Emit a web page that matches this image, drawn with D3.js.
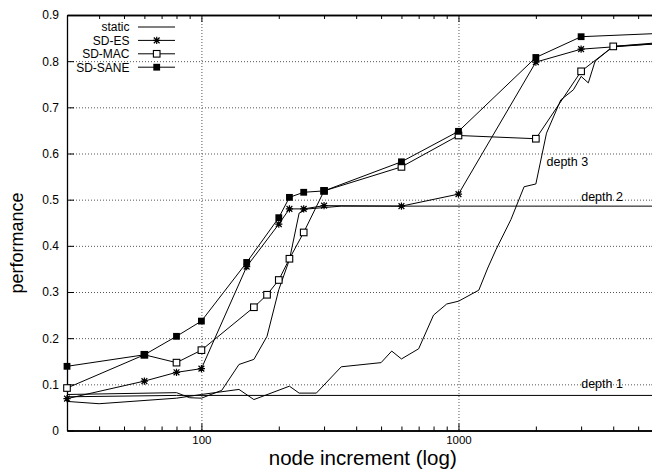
<!DOCTYPE html>
<html>
<head>
<meta charset="utf-8">
<script src="https://cdn.jsdelivr.net/npm/d3@7/dist/d3.min.js"></script>
<style>
  html, body { margin: 0; padding: 0; background: #fff; }
  svg { display: block; font-family: "Liberation Sans", Arial, Helvetica, sans-serif; }
</style>
</head>
<body>
<svg id="chart" width="652" height="469"></svg>
<script>
// ---- data ----
const xTicksMajor = [100, 1000];
const xTicksMinor = [40, 50, 60, 70, 80, 90, 200, 300, 400, 500, 600, 700, 800, 900, 2000, 3000, 4000, 5000];
const yTicks = [0, 0.1, 0.2, 0.3, 0.4, 0.5, 0.6, 0.7, 0.8, 0.9];
const yTickLabels = ["0", "0.1", "0.2", "0.3", "0.4", "0.5", "0.6", "0.7", "0.8", "0.9"];

// static baselines, one curve per depth
const depth1X = [30, 80, 6000];
const depth1Y = [0.073, 0.076, 0.076];
const depth2X = [30, 80, 90, 100, 120, 140, 160, 180, 200, 220, 240, 260, 350, 6000];
const depth2Y = [0.078, 0.082, 0.071, 0.070, 0.087, 0.143, 0.154, 0.204, 0.305, 0.370, 0.471, 0.480, 0.486, 0.486];
const depth3X = [30, 40, 80, 100, 140, 160, 220, 240, 280, 350, 500, 550, 600, 700, 800, 900, 1000, 1200, 1300, 1400, 1600, 1800, 2000, 2200, 2500, 2800, 3000, 3200, 3400, 4000, 6000];
const depth3Y = [0.063, 0.058, 0.070, 0.078, 0.089, 0.067, 0.096, 0.081, 0.081, 0.138, 0.147, 0.172, 0.155, 0.177, 0.250, 0.274, 0.280, 0.304, 0.352, 0.392, 0.457, 0.528, 0.534, 0.644, 0.716, 0.738, 0.767, 0.753, 0.800, 0.832, 0.840];

// self-developing variants
const esX = [30, 60, 80, 100, 150, 200, 220, 250, 300, 600, 1000, 2000, 3000, 6000];
const esY = [0.069, 0.107, 0.126, 0.134, 0.355, 0.447, 0.480, 0.480, 0.487, 0.486, 0.512, 0.798, 0.826, 0.838];
const macX = [30, 60, 80, 100, 160, 180, 200, 220, 250, 300, 600, 1000, 2000, 3000, 4000, 6000];
const macY = [0.092, 0.164, 0.147, 0.174, 0.267, 0.294, 0.326, 0.372, 0.429, 0.519, 0.571, 0.639, 0.632, 0.778, 0.832, 0.838];
const saneX = [30, 60, 80, 100, 150, 200, 220, 250, 300, 600, 1000, 2000, 3000, 6000];
const saneY = [0.139, 0.164, 0.204, 0.237, 0.364, 0.461, 0.505, 0.516, 0.519, 0.582, 0.648, 0.808, 0.853, 0.860];

const legendNames = ["static", "SD-ES", "SD-MAC", "SD-SANE"];
const depthLabels = ["depth 1", "depth 2", "depth 3"];

// ---- layout ----
const svg = d3.select("#chart");
const plotL = 67, plotR = 658.5, plotT = 15, plotB = 430.5;

const x = d3.scaleLog().domain([30, 6000]).range([plotL, plotR]);
const y = d3.scaleLinear().domain([0, 0.9]).range([plotB, plotT]);

const zip = (xs, ys) => xs.map((v, i) => [v, ys[i]]);
const line = d3.line().x(d => x(d[0])).y(d => y(d[1]));

// grid
const grid = svg.append("g").attr("stroke", "#555").attr("stroke-width", 1).attr("stroke-dasharray", "1,2");
grid.selectAll("line.h").data(yTicks.slice(1, -1)).join("line")
  .attr("x1", plotL).attr("x2", plotR).attr("y1", d => y(d) + 0.5).attr("y2", d => y(d) + 0.5);
grid.selectAll("line.v").data(xTicksMajor).join("line")
  .attr("y1", plotT).attr("y2", plotB).attr("x1", d => x(d) + 0.5).attr("x2", d => x(d) + 0.5);

// axes
function styleAxis(g) {
  g.selectAll("path.domain").attr("stroke", "#000").attr("stroke-width", 1.3);
  g.selectAll(".tick line").attr("stroke", "#000").attr("stroke-width", 1);
  g.selectAll(".tick text").attr("fill", "#000").attr("font-size", 11.5)
    .attr("font-family", "'Liberation Sans', Arial, Helvetica, sans-serif");
}
svg.append("g").attr("transform", `translate(0,${plotB})`)
  .call(d3.axisBottom(x).tickValues(xTicksMajor).tickFormat(d3.format("d")).tickSize(-7).tickSizeOuter(0).tickPadding(5.5))
  .call(styleAxis);
svg.append("g").attr("transform", `translate(0,${plotB})`)
  .call(d3.axisBottom(x).tickValues(xTicksMinor).tickFormat("").tickSize(-4).tickSizeOuter(0))
  .call(styleAxis);
svg.append("g").attr("transform", `translate(0,${plotT})`)
  .call(d3.axisTop(x).tickValues(xTicksMajor).tickFormat("").tickSize(-7).tickSizeOuter(0))
  .call(styleAxis);
svg.append("g").attr("transform", `translate(0,${plotT})`)
  .call(d3.axisTop(x).tickValues(xTicksMinor).tickFormat("").tickSize(-4).tickSizeOuter(0))
  .call(styleAxis);
svg.append("g").attr("transform", `translate(${plotL},0)`)
  .call(d3.axisLeft(y).tickValues(yTicks).tickFormat((d, i) => yTickLabels[i]).tickSize(-7).tickSizeOuter(0).tickPadding(8))
  .call(styleAxis)
  .call(g => g.selectAll(".tick text").attr("font-size", 12));
svg.append("g").attr("transform", `translate(${plotR},0)`)
  .call(d3.axisRight(y).tickValues(yTicks).tickFormat("").tickSize(-7).tickSizeOuter(0))
  .call(styleAxis);

// axis titles
svg.append("text").attr("x", (plotL + plotR) / 2).attr("y", 464.6)
  .attr("text-anchor", "middle").attr("font-size", 20.5).text("node increment (log)");
svg.append("text").attr("transform", `translate(23,243) rotate(-90)`)
  .attr("text-anchor", "middle").attr("font-size", 18).text("performance");

// series lines
const lines = svg.append("g").attr("fill", "none").attr("stroke", "#000").attr("stroke-width", 1);
[[depth1X, depth1Y], [depth2X, depth2Y], [depth3X, depth3Y],
 [esX, esY], [macX, macY], [saneX, saneY]].forEach(([xs, ys]) => {
  lines.append("path").attr("d", line(zip(xs, ys)));
});

// markers
const starPath = s => `M${-s},0H${s}M0,${-s}V${s}M${-s * 0.8},${-s * 0.8}L${s * 0.8},${s * 0.8}M${-s * 0.8},${s * 0.8}L${s * 0.8},${-s * 0.8}`;
function drawStar(g, cx, cy) {
  g.append("path").attr("transform", `translate(${cx},${cy})`).attr("d", starPath(3.6))
    .attr("stroke", "#000").attr("stroke-width", 1.2).attr("fill", "none");
}
function drawOpen(g, cx, cy) {
  g.append("rect").attr("x", cx - 3.3).attr("y", cy - 3.3).attr("width", 6.6).attr("height", 6.6)
    .attr("fill", "#fff").attr("stroke", "#000").attr("stroke-width", 1.1);
}
function drawFilled(g, cx, cy) {
  g.append("rect").attr("x", cx - 3.4).attr("y", cy - 3.4).attr("width", 6.8).attr("height", 6.8).attr("fill", "#000");
}
const marks = svg.append("g");
zip(esX, esY).forEach(d => drawStar(marks, x(d[0]), y(d[1])));
zip(macX, macY).forEach(d => drawOpen(marks, x(d[0]), y(d[1])));
zip(saneX, saneY).forEach(d => drawFilled(marks, x(d[0]), y(d[1])));

// depth annotations
const ann = svg.append("g").attr("font-size", 12.5);
ann.append("text").attr("x", x(4000) - 32).attr("y", y(0.076) - 7).text(depthLabels[0]);
ann.append("text").attr("x", x(4000) - 32).attr("y", y(0.486) - 5).text(depthLabels[1]);
ann.append("text").attr("x", x(2200)).attr("y", y(0.574)).text(depthLabels[2]);

// legend
const leg = svg.append("g").attr("font-size", 12);
const drawers = [null, drawStar, drawOpen, drawFilled];
legendNames.forEach((name, i) => {
  const cy = 27 + i * 13.4;
  leg.append("text").attr("x", 129.5).attr("y", cy + 4.3).attr("text-anchor", "end").text(name);
  leg.append("line").attr("x1", 138).attr("x2", 175).attr("y1", cy).attr("y2", cy)
    .attr("stroke", "#000").attr("stroke-width", 1);
  if (drawers[i]) drawers[i](leg, 156.7, cy);
});
</script>
</body>
</html>
